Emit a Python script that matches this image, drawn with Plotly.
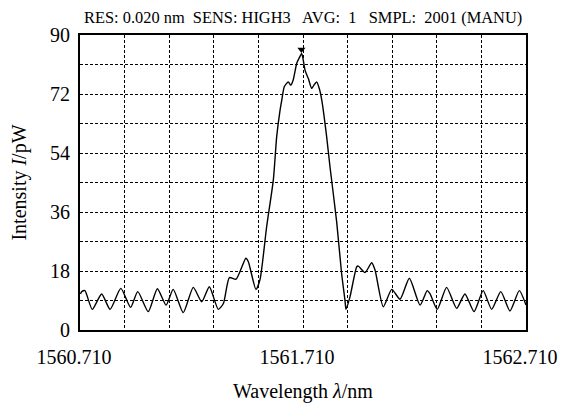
import plotly.graph_objects as go

wavelength_nm = [
    1560.712, 1560.718, 1560.732, 1560.765, 1560.807, 1560.845, 1560.893, 1560.937,
    1560.969, 1561.016, 1561.057, 1561.096, 1561.128, 1561.173, 1561.218, 1561.256,
    1561.290, 1561.330, 1561.353, 1561.380, 1561.410, 1561.454, 1561.465, 1561.499,
    1561.517, 1561.547, 1561.577, 1561.592, 1561.607, 1561.615, 1561.626, 1561.644,
    1561.655, 1561.666, 1561.682, 1561.696, 1561.704, 1561.711, 1561.719, 1561.734,
    1561.749, 1561.759, 1561.771, 1561.783, 1561.794, 1561.816, 1561.831, 1561.861,
    1561.883, 1561.898, 1561.903, 1561.921, 1561.951, 1561.958, 1561.988, 1562.018,
    1562.033, 1562.070, 1562.108, 1562.145, 1562.187, 1562.235, 1562.267, 1562.280,
    1562.312, 1562.354, 1562.399, 1562.436, 1562.477, 1562.518, 1562.556, 1562.597,
    1562.638, 1562.680, 1562.710,
]
intensity_pw = [
    11.0, 11.7, 12.0, 6.3, 11.0, 6.3, 12.7, 6.9,
    11.7, 5.6, 12.6, 7.6, 12.4, 5.3, 13.0, 8.6,
    13.2, 6.3, 8.1, 16.0, 15.5, 21.9, 20.8, 12.4,
    15.3, 31.5, 45.8, 59.0, 67.0, 70.2, 74.2, 75.7,
    74.7, 76.3, 81.4, 83.4, 84.4, 82.4, 79.3, 76.7,
    73.7, 74.7, 75.7, 73.7, 70.2, 59.0, 49.8, 33.0,
    17.3, 9.2, 6.3, 10.2, 19.3, 19.5, 17.5, 20.5,
    18.3, 7.1, 12.4, 9.4, 15.8, 7.6, 12.0, 11.0,
    6.3, 13.0, 6.6, 11.0, 5.6, 12.0, 6.3, 11.7,
    5.8, 12.0, 7.6,
]
peak_wavelength = [1561.703]
peak_intensity = [85.6]

x_tickvals = [1560.710, 1561.710, 1562.710]
x_ticktext = ["1560.710", "1561.710", "1562.710"]
y_tickvals = [0, 18, 36, 54, 72, 90]
header_text = "RES: 0.020 nm  SENS: HIGH3   AVG:  1   SMPL:  2001 (MANU)"

FONT = "Liberation Serif, Times New Roman, serif"

fig = go.Figure()
fig.add_trace(go.Scatter(
    x=wavelength_nm, y=intensity_pw, mode="lines",
    line=dict(color="black", width=1.4, shape="spline", smoothing=0.6),
    showlegend=False, hoverinfo="skip",
))
fig.add_trace(go.Scatter(
    x=peak_wavelength, y=peak_intensity, mode="markers",
    marker=dict(symbol="triangle-down", size=7, color="black"),
    showlegend=False, hoverinfo="skip",
))

# page body has an 8px default margin, so the figure is offset by 8px
fig.update_layout(
    width=562, height=395,
    margin=dict(l=72, r=44, t=27, b=73, autoexpand=False),
    paper_bgcolor="white", plot_bgcolor="white",
    font=dict(family=FONT, color="black", size=20),
    annotations=[dict(
        text=header_text, xref="paper", yref="paper", x=0.0, y=1.0,
        xanchor="left", yanchor="bottom", yshift=6, xshift=2, showarrow=False,
        font=dict(family=FONT, size=16.4, color="black"),
    )],
)
fig.update_xaxes(
    range=[1560.710, 1562.710], tickmode="array", tickvals=x_tickvals, ticktext=x_ticktext,
    showgrid=False, zeroline=False, showline=True, linecolor="black", linewidth=2,
    mirror=True, ticks="", ticklen=0, automargin=False,
    ticklabelshift=-6, ticklabelstandoff=8,
    minor=dict(tick0=1560.710, dtick=0.2, showgrid=True, gridcolor="black",
               gridwidth=1, griddash="3px,2px", ticks=""),
    title=dict(text="Wavelength <i>λ</i>/nm", standoff=17, font=dict(size=20)),
    tickfont=dict(size=20),
)
fig.update_yaxes(
    range=[0, 90], tickmode="array", tickvals=y_tickvals,
    showgrid=True, gridcolor="black", gridwidth=1, griddash="3px,2px",
    zeroline=False, showline=True, linecolor="black", linewidth=2,
    mirror=True, ticks="", ticklen=0, automargin=False, ticklabelstandoff=4,
    minor=dict(tick0=0, dtick=9, showgrid=True, gridcolor="black",
               gridwidth=1, griddash="3px,2px", ticks=""),
    title=dict(text="Intensity <i>I</i>/pW", standoff=18, font=dict(size=20)),
    tickfont=dict(size=20),
)

fig.write_html("out.html")
